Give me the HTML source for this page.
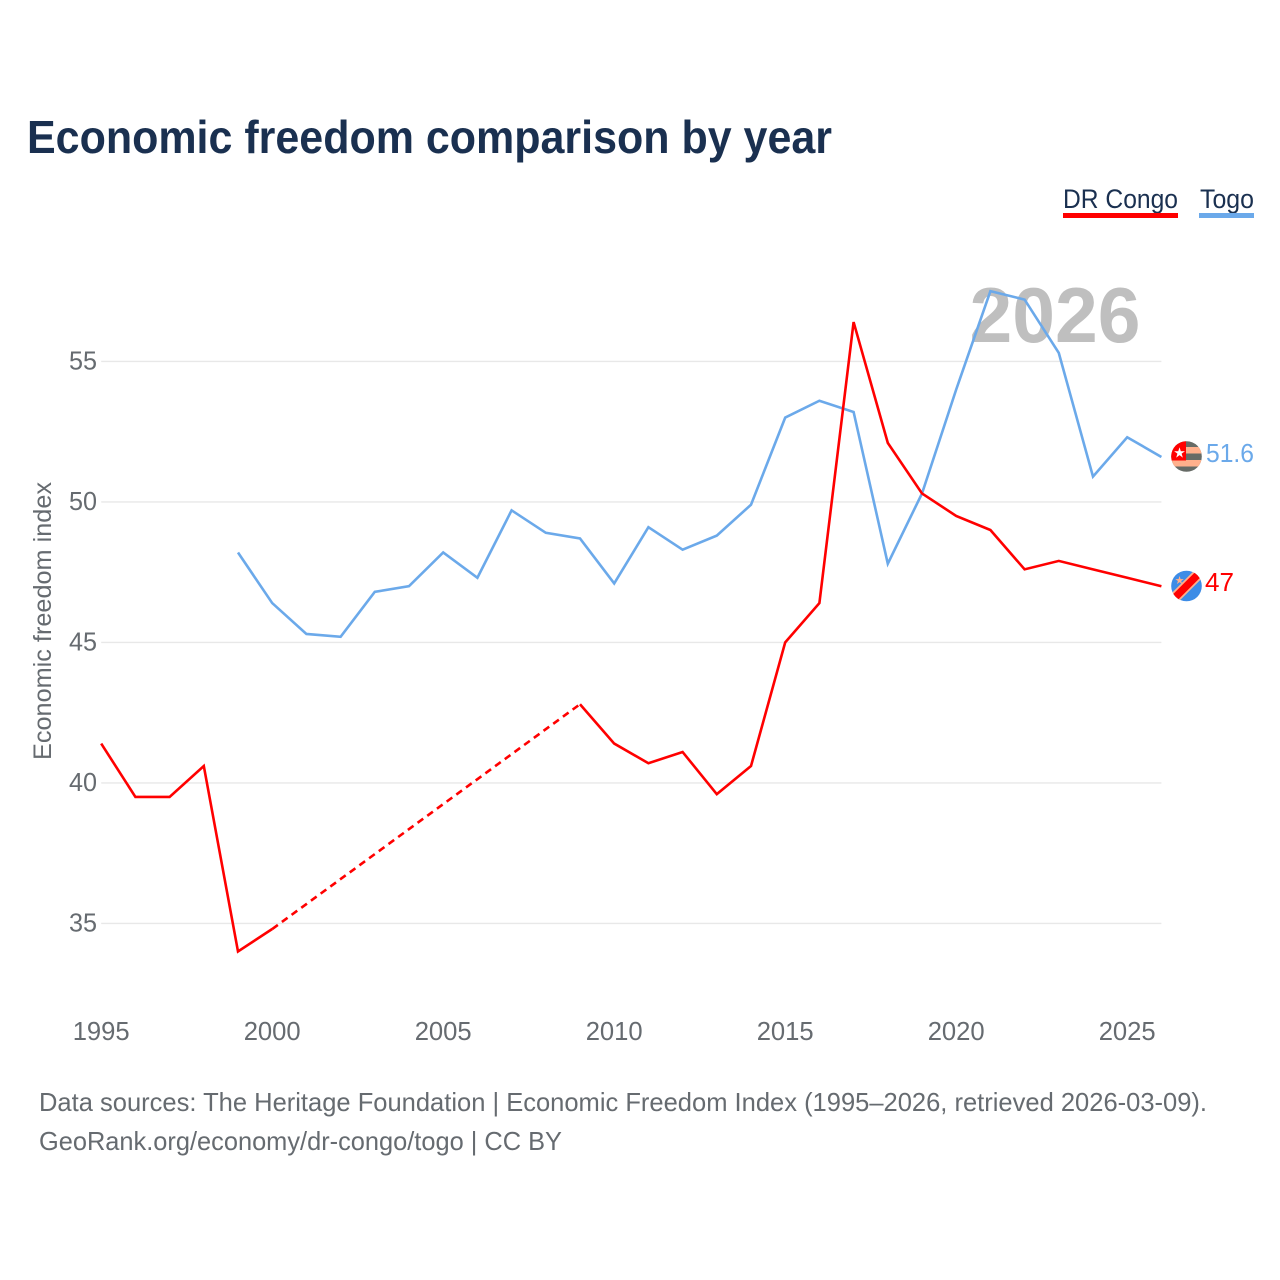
<!DOCTYPE html>
<html lang="en">
<head>
<meta charset="utf-8">
<title>Economic freedom comparison by year</title>
<style>
html,body{margin:0;padding:0;background:#fff;}
svg{display:block;font-family:"Liberation Sans",sans-serif;}
</style>
</head>
<body>
<svg id="chart" xmlns="http://www.w3.org/2000/svg" width="1280" height="1280" viewBox="0 0 1280 1280">
  <defs>
    <clipPath id="flag-clip-togo"><circle cx="1186.5" cy="456.5" r="15.3"/></clipPath>
    <clipPath id="flag-clip-congo"><circle cx="1186.5" cy="586" r="15.3"/></clipPath>
  </defs>
  <rect x="0" y="0" width="1280" height="1280" fill="#ffffff"/>
  <text x="27" y="153" font-size="46" font-weight="700" fill="#1a3050" textLength="805" lengthAdjust="spacingAndGlyphs">Economic freedom comparison by year</text>

  <g>
    <g>
      <text x="1063" y="208" font-size="27" fill="#1a3050" textLength="115" lengthAdjust="spacingAndGlyphs">DR Congo</text>
      <rect x="1063" y="213" width="115" height="5" fill="#ff0000"/>
    </g>
    <g>
      <text x="1200" y="208" font-size="27" fill="#1a3050" textLength="54" lengthAdjust="spacingAndGlyphs">Togo</text>
      <rect x="1199" y="213" width="55" height="5" fill="#6ba9ea"/>
    </g>
  </g>

  <g id="grid"></g>
  <g id="y-axis"></g>
  <g id="x-axis"></g>

  <text x="1055" y="342" font-size="78" font-weight="700" fill="#bfbfbf" text-anchor="middle" textLength="171" lengthAdjust="spacingAndGlyphs">2026</text>

  <text transform="translate(51,621) rotate(-90)" font-size="25" fill="#666b70" text-anchor="middle" textLength="278" lengthAdjust="spacingAndGlyphs">Economic freedom index</text>

  <g id="series"></g>

  <g clip-path="url(#flag-clip-togo)">
    <rect x="1171" y="441" width="31" height="32" fill="#666b66"/>
    <rect x="1171" y="447" width="31" height="6.5" fill="#ffb08c"/>
    <rect x="1171" y="460" width="31" height="6.5" fill="#ffb08c"/>
    <rect x="1171" y="441" width="15" height="19.5" fill="#ff0000"/>
    <text x="1179.5" y="457.5" font-size="14" fill="#ffffff" text-anchor="middle">★</text>
  </g>
  <g clip-path="url(#flag-clip-congo)">
    <rect x="1171" y="570" width="31" height="32" fill="#3d8ce6"/>
    <line x1="1170" y1="602.5" x2="1203" y2="569.5" stroke="#ffb08c" stroke-width="11"/>
    <line x1="1170" y1="602.5" x2="1203" y2="569.5" stroke="#ff0000" stroke-width="7.5"/>
    <text x="1179.5" y="584" font-size="11" fill="#ffb08c" text-anchor="middle">★</text>
  </g>

  <text x="1206" y="462" font-size="26" fill="#6ba9ea" textLength="48" lengthAdjust="spacingAndGlyphs">51.6</text>
  <text x="1205" y="591" font-size="26" fill="#ff0000" textLength="29" lengthAdjust="spacingAndGlyphs">47</text>

  <text x="39" y="1111" font-size="26" fill="#666b70" textLength="1168" lengthAdjust="spacingAndGlyphs">Data sources: The Heritage Foundation | Economic Freedom Index (1995–2026, retrieved 2026-03-09).</text>
  <text x="39" y="1150" font-size="26" fill="#666b70" textLength="523" lengthAdjust="spacingAndGlyphs">GeoRank.org/economy/dr-congo/togo | CC BY</text>
</svg>
<script>
const years = [1995,1996,1997,1998,1999,2000,2001,2002,2003,2004,2005,2006,2007,2008,2009,2010,2011,2012,2013,2014,2015,2016,2017,2018,2019,2020,2021,2022,2023,2024,2025,2026];
const drCongoValues = [41.4,39.5,39.5,40.6,34,34.8,null,null,null,null,null,null,null,null,42.8,41.4,40.7,41.1,39.6,40.6,45,46.4,56.4,52.1,50.3,49.5,49,47.6,47.9,47.6,47.3,47];
const togoValues = [null,null,null,null,48.2,46.4,45.3,45.2,46.8,47,48.2,47.3,49.7,48.9,48.7,47.1,49.1,48.3,48.8,49.9,53,53.6,53.2,47.8,50.3,54,57.5,57.2,55.3,50.9,52.3,51.6];
const yTickValues = [35,40,45,50,55];
const xTickValues = [1995,2000,2005,2010,2015,2020,2025];

const NS = 'http://www.w3.org/2000/svg';
function xScale(year){ return 101.2 + (year - 1995) * 34.2; }
function yScale(value){ return 923.4 - (value - 35) * 28.1; }

const gridGroup = document.getElementById('grid');
const yAxisGroup = document.getElementById('y-axis');
const xAxisGroup = document.getElementById('x-axis');
const seriesGroup = document.getElementById('series');

yTickValues.forEach(function(tick){
  const line = document.createElementNS(NS,'line');
  
  
  line.setAttribute('x1', xScale(1995));
  line.setAttribute('x2', xScale(2026));
  line.setAttribute('y1', yScale(tick));
  line.setAttribute('y2', yScale(tick));
  line.setAttribute('stroke', '#e8e8e8');
  line.setAttribute('stroke-width', '1.4');
  gridGroup.appendChild(line);

  const label = document.createElementNS(NS,'text');
  
  
  label.setAttribute('x', 97);
  label.setAttribute('y', yScale(tick) + 8);
  label.setAttribute('font-size', '26');
  label.setAttribute('fill', '#666b70');
  label.setAttribute('text-anchor', 'end');
  label.setAttribute('textLength', '28');
  label.setAttribute('lengthAdjust', 'spacingAndGlyphs');
  label.textContent = String(tick);
  yAxisGroup.appendChild(label);
});

xTickValues.forEach(function(tick){
  const label = document.createElementNS(NS,'text');
  
  
  label.setAttribute('x', xScale(tick));
  label.setAttribute('y', 1040);
  label.setAttribute('font-size', '26');
  label.setAttribute('fill', '#666b70');
  label.setAttribute('text-anchor', 'middle');
  label.setAttribute('textLength', '57');
  label.setAttribute('lengthAdjust', 'spacingAndGlyphs');
  label.textContent = String(tick);
  xAxisGroup.appendChild(label);
});

function drawSeries(values, color, name){
  let run = [];
  let lastPoint = null;
  function flush(){
    if (run.length > 1) {
      const solid = document.createElementNS(NS,'polyline');
      
      
      solid.setAttribute('points', run.join(' '));
      solid.setAttribute('fill', 'none');
      solid.setAttribute('stroke', color);
      solid.setAttribute('stroke-width', '2.6');
      solid.setAttribute('stroke-linejoin', 'miter');
      seriesGroup.appendChild(solid);
    }
    run = [];
  }
  values.forEach(function(value, i){
    if (value === null) {
      flush();
      return;
    }
    const point = xScale(years[i]) + ',' + yScale(value);
    if (run.length === 0 && lastPoint !== null) {
      const gap = document.createElementNS(NS,'polyline');
      
      
      gap.setAttribute('points', lastPoint + ' ' + point);
      gap.setAttribute('fill', 'none');
      gap.setAttribute('stroke', color);
      gap.setAttribute('stroke-width', '2.6');
      gap.setAttribute('stroke-dasharray', '7 5');
      seriesGroup.appendChild(gap);
    }
    run.push(point);
    lastPoint = point;
  });
  flush();
}

drawSeries(togoValues, '#6ba9ea', 'togo');
drawSeries(drCongoValues, '#ff0000', 'dr-congo');
</script>
</body>
</html>
